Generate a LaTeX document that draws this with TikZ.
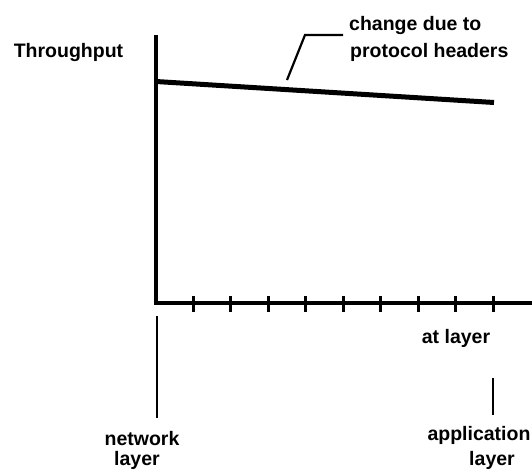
\documentclass[tikz,border=0pt]{standalone}
\usepackage{fontspec}
\setmainfont{Liberation Sans}
\begin{document}
\begin{tikzpicture}[x=1pt,y=-1pt,
  lbl/.style={font=\bfseries\fontsize{19.5}{22}\selectfont, inner sep=0pt, anchor=base},
  axis/.style={line width=4pt},
  curve/.style={line width=5pt},
  leader/.style={line width=2.2pt},
  marker/.style={line width=1.6pt},
  tickmark/.style={line width=3pt}]
\useasboundingbox (0,0) rectangle (532,474);
% axes
\coordinate (ytop) at (156,35);
\coordinate (orig) at (156,303);
\coordinate (xend) at (532,303);
\draw[axis] (ytop) -- (orig) -- (xend);
\foreach \i in {0,...,8} {
  \draw[tickmark] ({193+37.5*\i},296) -- ({193+37.5*\i},312);
}
% throughput line
\coordinate (tstart) at (156,81.5);
\coordinate (tend) at (494,102.5);
\draw[curve] (tstart) -- (tend);
% leader
\coordinate (lA) at (287,80);
\coordinate (lB) at (305,35);
\coordinate (lC) at (343,35);
\draw[leader] (lA) -- (lB) -- (lC);
% labels
\node[lbl] (thr) at (68.5,57) {Throughput};
\node[lbl, anchor=base west] (chg) at (349,30) {change due to};
\node[lbl, anchor=base west] (proto) at (350,57) {protocol headers};
\node[lbl] (atl) at (456,343) {at layer};
% network layer marker
\coordinate (nA) at (157,316);
\coordinate (nB) at (157,418);
\draw[marker] (nA) -- (nB);
\node[lbl] (net) at (142,445) {network};
\node[lbl] (netl) at (137,465) {layer};
% application layer marker
\coordinate (aA) at (493,378);
\coordinate (aB) at (493,415);
\draw[marker] (aA) -- (aB);
\node[lbl] (app) at (479,440) {application};
\node[lbl] (appl) at (492,465) {layer};
\end{tikzpicture}
\end{document}
